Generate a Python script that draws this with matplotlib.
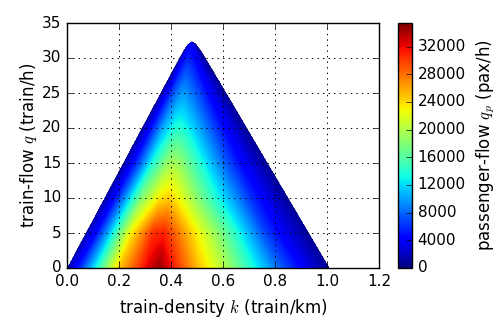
import numpy as np
import matplotlib
matplotlib.use("Agg")
import matplotlib.pyplot as plt

plt.style.use("classic")
plt.rcParams["font.family"] = ["DejaVu Sans"]
plt.rcParams["font.size"] = 11

# ---- data ----
# relative position across each horizontal slice of the feasible triangle (0 = left edge, 1 = right edge)
s_pos = [0.0, 0.05, 0.1, 0.2, 0.3, 0.35, 0.4, 0.5, 0.6, 0.7, 0.8, 0.9, 0.95, 1.0]
# train-flow levels (train/h)
q_levels = [0, 5, 10, 15, 20, 25, 30, 33]
# passenger flow (pax/h) at each (q level, s position)
qp_q0 = [1500, 6000, 12000, 25000, 32000, 34700, 31500, 25000, 20000, 14000, 8500, 4000, 2200, 800]
qp_q5 = [1300, 5000, 10500, 23000, 30500, 31000, 28500, 23000, 18000, 12500, 7000, 3300, 2000, 700]
qp_q10 = [1200, 4200, 8500, 18000, 23500, 24500, 23000, 18500, 14000, 10000, 6000, 3000, 1800, 700]
qp_q15 = [1100, 3500, 6500, 13500, 18500, 19500, 18500, 15000, 11500, 8000, 5000, 2600, 1600, 600]
qp_q20 = [1000, 3000, 5500, 10500, 13500, 14000, 13500, 11500, 9000, 6500, 4200, 2300, 1400, 600]
qp_q25 = [900, 2500, 4500, 7500, 9500, 9800, 9500, 8200, 6800, 5000, 3500, 2000, 1200, 500]
qp_q30 = [800, 2000, 3200, 4800, 5500, 5600, 5500, 5000, 4300, 3500, 2600, 1600, 1000, 500]
qp_q33 = [700, 1500, 2000, 2600, 2900, 3000, 3000, 2800, 2500, 2100, 1700, 1200, 900, 500]
qp_table = [qp_q0, qp_q5, qp_q10, qp_q15, qp_q20, qp_q25, qp_q30, qp_q33]

# triangle boundary (free-flow speed, wave speed, jam density)
v_free = 69.6
w_cong = 63.0
k_jam = 1.01

cbar_ticks = list(range(0, 32001, 4000))
vmax = 35400

# ---- build field ----
k = np.linspace(0, 1.2, 721)
q = np.linspace(0, 35, 421)
K, Q = np.meshgrid(k, q)
kL = Q / v_free
kR = k_jam - Q / w_cong
den = np.clip(kR - kL, 1e-3, None)
S = np.clip((K - kL) / den, 0, 1)

T = 1.5
a = v_free * K
b = w_cong * (k_jam - K)
qtop = -T * np.logaddexp(-a / T, -b / T)
mask = (Q > qtop) | (K < kL - 1e-9) | (K > kR + 1e-9)

ql = np.array(q_levels, float)
stack = np.array([np.interp(S, s_pos, row) for row in qp_table])
qi = np.clip(Q, ql[0], ql[-1])
j = np.clip(np.searchsorted(ql, qi) - 1, 0, len(ql) - 2)
t = (qi - ql[j]) / (ql[j + 1] - ql[j])
lo = np.take_along_axis(stack, j[None], 0)[0]
hi = np.take_along_axis(stack, (j + 1)[None], 0)[0]
V = lo * (1 - t) + hi * t
V = np.ma.array(V, mask=mask)

fig = plt.figure(figsize=(5.01, 3.2), dpi=100, facecolor="white")
ax = fig.add_axes([67 / 501, 52 / 320, 312 / 501, 245 / 320])
im = ax.imshow(V, origin="lower", extent=[0, 1.2, 0, 35], aspect="auto",
               cmap="jet", vmin=0, vmax=vmax, interpolation="bilinear")
ax.set_xlim(0, 1.2)
ax.set_ylim(0, 35)
ax.set_xticks(np.arange(0, 1.21, 0.2))
ax.set_yticks(np.arange(0, 36, 5))
ax.grid(True, color="k", linestyle=":", linewidth=0.7)
ax.set_axisbelow(False)
ax.set_xlabel(r"train-density $k$ (train/km)", fontsize=12, labelpad=6)
ax.set_ylabel(r"train-flow $q$ (train/h)", fontsize=12, labelpad=2)

cax = fig.add_axes([398 / 501, 52 / 320, 14 / 501, 245 / 320])
cb = fig.colorbar(im, cax=cax, ticks=cbar_ticks)
cb.set_label(r"passenger-flow $q_p$ (pax/h)", fontsize=12, labelpad=6)
cb.outline.set_linewidth(1)

fig.savefig("out.png", dpi=100, facecolor="white")
